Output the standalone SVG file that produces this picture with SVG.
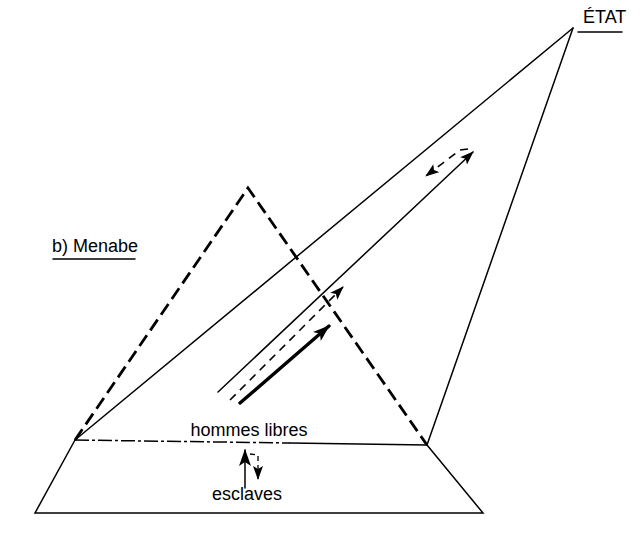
<svg xmlns="http://www.w3.org/2000/svg" width="642" height="533" viewBox="0 0 642 533">
<style>
.ln{fill:none;stroke:#000;stroke-width:1.5;stroke-linecap:round}
.dd{fill:none;stroke:#000;stroke-width:1.5;stroke-dasharray:14 3 3 3}
.tri{fill:none;stroke:#000;stroke-width:2.8;stroke-dasharray:13 6}
.da{fill:none;stroke:#000;stroke-width:1.6;stroke-dasharray:8 6}
.thick{fill:none;stroke:#000;stroke-width:3.4;stroke-linecap:round}
.t{font-family:"Liberation Sans",Arial,sans-serif;font-size:18px;fill:#000}
</style>
<defs>
<marker id="ah" viewBox="0 0 14 10" refX="13" refY="5" markerWidth="14" markerHeight="10" markerUnits="userSpaceOnUse" orient="auto">
<path d="M0,0 L14,5 L0,10 L3,5 z" fill="#000"/>
</marker>
<marker id="ahb" viewBox="0 0 17 12" refX="16" refY="6" markerWidth="17" markerHeight="12" markerUnits="userSpaceOnUse" orient="auto">
<path d="M0,0 L17,6 L0,12 L4,6 z" fill="#000"/>
</marker>
</defs>
<g id="connectors">
<line class="ln" x1="75" y1="440" x2="573" y2="28"/>
<line class="ln" x1="427" y1="445" x2="573" y2="28"/>
<path class="tri" d="M75,440 L248,188 L427,445"/>
<line class="dd" x1="75" y1="440" x2="290" y2="443"/>
<line class="ln" x1="290" y1="443" x2="427" y2="445"/>
<path class="ln" d="M75,440 L35,513 L483,513 L427,445"/>
<line class="ln" x1="218" y1="392" x2="473" y2="152" marker-end="url(#ah)"/>
<path class="da" d="M468,149 L460,150 L426,176" marker-end="url(#ah)"/>
<line class="da" x1="230" y1="400" x2="343" y2="287" marker-end="url(#ah)"/>
<line class="thick" x1="240" y1="403" x2="329" y2="326" marker-end="url(#ahb)"/>
<line class="ln" x1="245" y1="488" x2="245" y2="450" marker-end="url(#ahb)"/>
<path class="da" style="stroke-width:1.3;stroke-dasharray:5 4" d="M250,454 L258,455 L258,479" marker-end="url(#ah)"/>
</g>
<g id="etat">
<text class="t" x="583" y="23">ÉTAT</text>
<line class="ln" x1="578" y1="32" x2="622" y2="32"/>
</g>
<g id="menabe">
<text class="t" x="52" y="252">b) Menabe</text>
<line class="ln" x1="53" y1="259" x2="135" y2="259"/>
</g>
<g id="hommes-libres">
<text class="t" x="249" y="436" text-anchor="middle">hommes libres</text>
</g>
<g id="esclaves">
<text class="t" x="247" y="500" text-anchor="middle">esclaves</text>
</g>
</svg>
